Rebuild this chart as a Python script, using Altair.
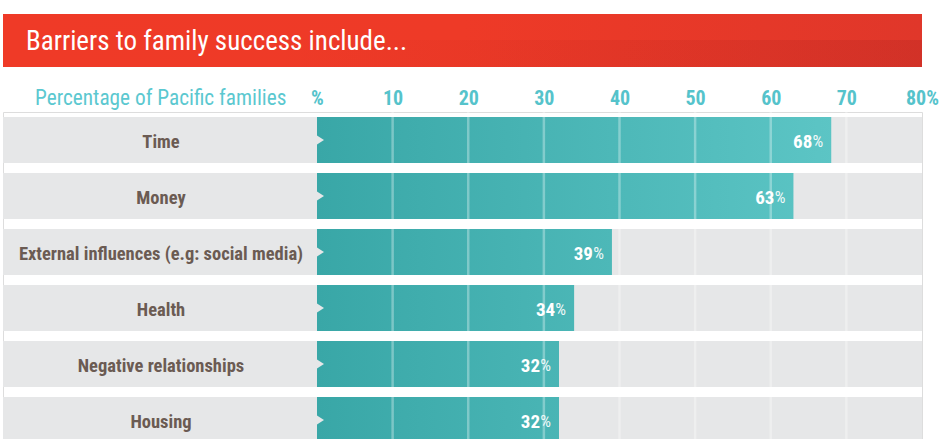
import altair as alt
import pandas as pd

categories = ["Time", "Money", "External influences (e.g: social media)",
              "Health", "Negative relationships", "Housing"]
values = [68, 63, 39, 34, 32, 32]
ticks = [0, 10, 20, 30, 40, 50, 60, 70, 80]
grid_ticks = [10, 20, 30, 40, 50, 60, 70]
title_text = "Barriers to family success include..."
header_text = "Percentage of Pacific families"

FONT = "Liberation Sans Narrow, Roboto Condensed, Roboto"
GRAY = "#e6e7e8"

rows = pd.DataFrame({"cat": categories, "val": values,
                     "num": [str(v) for v in values], "pct": ["%"] * len(values)})
grid = pd.DataFrame({"t": grid_ticks})
one = pd.DataFrame({"a": [0]})

W, H = 919, 327
xs = alt.Scale(domain=[-41.52, ticks[-1]], nice=False, zero=False)
ys = alt.Scale(domain=categories, range=[0, 336], paddingInner=10 / 56, paddingOuter=5 / 56)

X_axis = alt.Axis(orient="top", values=ticks, title=None, domain=False, ticks=False, grid=False,
                  labelExpr="datum.value == 0 ? '%' : (datum.value == 80 ? '80%' : datum.label)",
                  labelFont=FONT, labelFontSize=20, labelColor="#55c3cb", labelFontWeight="bold",
                  labelPadding=4, labelFlush=False, labelOverlap=False, labelBound=False)
Y = alt.Y("cat:N", scale=ys, axis=None, sort=categories)

base = alt.Chart(rows)

bg = base.mark_rect(color=GRAY, clip=True).encode(
    x=alt.value(0), x2=alt.value(W), y=Y)

teal = base.mark_rect(clip=True, color={
    "gradient": "linear", "x1": 0, "x2": 1, "y1": 0, "y2": 0,
    "stops": [{"offset": 0, "color": "#39a7a7"}, {"offset": 1, "color": "#62caca"}]}).encode(
    x=alt.X("z:Q", scale=xs, axis=X_axis), x2=alt.datum(ticks[-1]), y=Y
).transform_calculate(z=str(ticks[0]))

cover = base.mark_rect(color=GRAY, clip=True).encode(
    x=alt.X("val:Q", scale=xs), x2=alt.datum(ticks[-1]), y=Y)

gridlines = alt.Chart(grid).mark_rule(color="white", opacity=0.32, strokeWidth=2.5).encode(
    x=alt.X("t:Q", scale=xs))

notch = base.mark_point(shape="M0,-0.9L1.4,0L0,0.9Z", filled=True, fill=GRAY, opacity=1,
                        size=100, strokeWidth=0).encode(
    x=alt.datum(ticks[0]), y=Y)

labels = base.mark_text(font=FONT, fontSize=18.5, fontWeight="bold", color="#6b5b53",
                        align="center", baseline="middle", dy=2).encode(
    x=alt.value(158), y=Y, text="cat:N")

pct = base.mark_text(font=FONT, fontSize=17, color="white", opacity=0.9,
                     align="right", baseline="middle", dx=-8, dy=2).encode(
    x=alt.X("val:Q", scale=xs), y=Y, text="pct:N")
num = base.mark_text(font=FONT, fontSize=19, fontWeight="bold", color="white",
                     align="right", baseline="middle", dx=-19, dy=2).encode(
    x=alt.X("val:Q", scale=xs), y=Y, text="num:N")

banner = alt.Chart(one).mark_rect(color={
    "gradient": "linear", "x1": 0, "x2": 1, "y1": 0, "y2": 0,
    "stops": [{"offset": 0, "color": "#ef3a27"}, {"offset": 0.5, "color": "#ee3a27"},
              {"offset": 1, "color": "#e0372a"}]}).encode(
    x=alt.value(0), x2=alt.value(W), y=alt.value(-98), y2=alt.value(-45))
banner_low = alt.Chart(one).mark_rect(color={
    "gradient": "linear", "x1": 0, "x2": 1, "y1": 0, "y2": 0,
    "stops": [{"offset": 0.3, "color": "rgba(170,30,30,0)"},
              {"offset": 1, "color": "rgba(160,30,30,0.22)"}]}).encode(
    x=alt.value(0), x2=alt.value(W), y=alt.value(-72), y2=alt.value(-45))
title = alt.Chart(one).mark_text(text=title_text, font=FONT, fontSize=27, color="white",
                                 align="left", baseline="middle").encode(
    x=alt.value(23), y=alt.value(-70))
header = alt.Chart(one).mark_text(text=header_text, font=FONT, fontSize=21.3, color="#5bc8d0",
                                  align="left", baseline="middle").encode(
    x=alt.value(32), y=alt.value(-13))

chart = alt.layer(bg, teal, cover, gridlines, notch, labels, pct, num,
                  banner, banner_low, title, header).properties(
    width=W, height=H,
    autosize=alt.AutoSizeParams(type="none"),
    padding={"left": 3, "top": 112, "right": 19, "bottom": 0},
).configure_view(stroke=None).configure(background="white")

chart.save("out.html", embed_options={"renderer": "svg", "actions": False})
